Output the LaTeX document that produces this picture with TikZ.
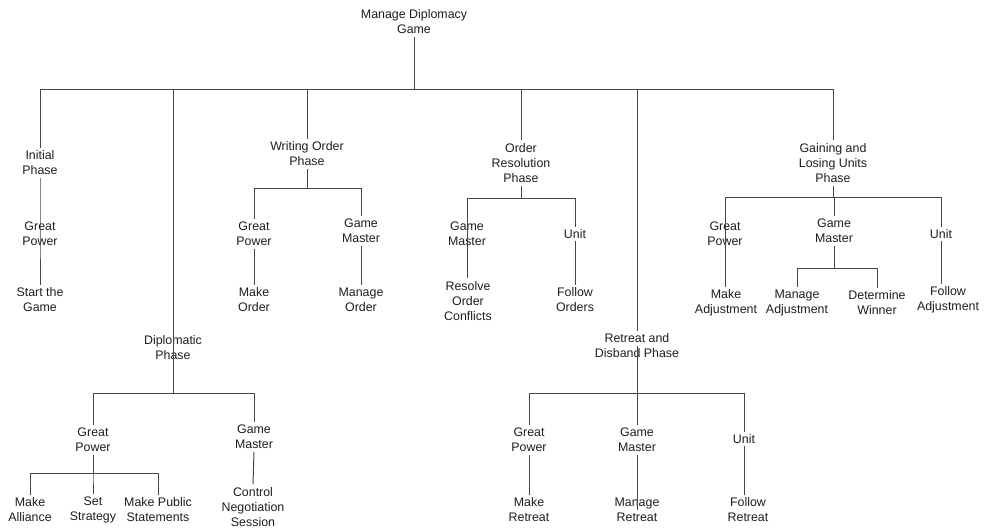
\documentclass[tikz,border=0pt]{standalone}
\usepackage{fontspec}
\setmainfont{Liberation Sans}
\definecolor{wire}{RGB}{70,70,70}
\definecolor{ink}{RGB}{30,30,30}
\tikzset{
  task/.style={align=center, inner sep=2pt, text=ink, font=\fontsize{9.3}{11.3}\selectfont},
  link/.style={draw=wire, line width=0.75pt}
}

\begin{document}
\begin{tikzpicture}[x=0.75pt, y=-0.75pt]
  \useasboundingbox (0,0) rectangle (987,529);
  % Root
  \node[task] (root) at (414, 22) {Manage Diplomacy\\Game};
  % Phases
  \node[task] (init) at ( 40,163) {Initial\\Phase};
  \node[task] (dip)  at (173,348) {Diplomatic\\Phase};
  \node[task] (wo)   at (307,154) {Writing Order\\Phase};
  \node[task] (or)   at (521,163) {Order\\Resolution\\Phase};
  \node[task] (rd)   at (637,346) {Retreat and\\Disband Phase};
  \node[task] (gl)   at (833,163) {Gaining and\\Losing Units\\Phase};
  % Initial Phase
  \node[task] (igp)  at ( 40,234) {Great\\Power};
  \node[task] (sg)   at ( 40,300) {Start the\\Game};
  % Diplomatic Phase
  \node[task] (dgp)  at ( 93,440) {Great\\Power};
  \node[task] (dgm)  at (254,437) {Game\\Master};
  \node[task] (mal)  at ( 30,510) {Make\\Alliance};
  \node[task] (ss)   at ( 93,510) {Set\\Strategy};
  \node[task] (mps)  at (158,510) {Make Public\\Statements};
  \node[task] (cns)  at (253,507) {Control\\Negotiation\\Session};
  % Writing Order Phase
  \node[task] (wgp)  at (254,234) {Great\\Power};
  \node[task] (wgm)  at (361,231) {Game\\Master};
  \node[task] (mo)   at (254,300) {Make\\Order};
  \node[task] (mno)  at (361,300) {Manage\\Order};
  % Order Resolution Phase
  \node[task] (ogm)  at (467,234) {Game\\Master};
  \node[task] (ou)   at (575,234) {Unit};
  \node[task] (roc)  at (468,301) {Resolve\\Order\\Conflicts};
  \node[task] (fo)   at (575,300) {Follow\\Orders};
  % Retreat and Disband Phase
  \node[task] (rgp)  at (529,440) {Great\\Power};
  \node[task] (rgm)  at (637,440) {Game\\Master};
  \node[task] (ru)   at (744,439) {Unit};
  \node[task] (mr)   at (529,510) {Make\\Retreat};
  \node[task] (mgr)  at (637,510) {Manage\\Retreat};
  \node[task] (fr)   at (748,510) {Follow\\Retreat};
  % Gaining and Losing Units Phase
  \node[task] (ggp)  at (725,234) {Great\\Power};
  \node[task] (ggm)  at (834,231) {Game\\Master};
  \node[task] (gu)   at (941,234) {Unit};
  \node[task] (ma)   at (726,303) {Make\\Adjustment};
  \node[task] (mad)  at (797,303) {Manage\\Adjustment};
  \node[task] (dw)   at (877,303) {Determine\\Winner};
  \node[task] (fa)   at (948,300) {Follow\\Adjustment};

  % Buses
  \coordinate (topbus) at (414, 89);
  \coordinate (wobus)  at (307,188);
  \coordinate (orbus)  at (521,198);
  \coordinate (glbus)  at (833,197);
  \coordinate (gmbus)  at (834,268);
  \coordinate (dipbus) at (173,393);
  \coordinate (gpbus)  at ( 93,473);
  \coordinate (rdbus)  at (637,393);

  % Root to phases
  \foreach \c in {init,wo,or,rd,gl}
    \draw[link] (root.south) -- (topbus) -| (\c.north);
  \draw[link] (topbus) -| (dip.center);
  % Initial Phase
  \draw[link] (init.south) -- (igp.center) -- (sg.north);
  % Diplomatic Phase
  \foreach \c in {dgp,dgm}
    \draw[link] (dip.center) -- (dipbus) -| (\c.north);
  \foreach \c in {mal,ss,mps}
    \draw[link] (dgp.south) -- (gpbus) -| (\c.north);
  \draw[link] (dgm.south) -- (cns.north);
  % Writing Order Phase
  \foreach \c in {wgp,wgm}
    \draw[link] (wo.south) -- (wobus) -| (\c.north);
  \draw[link] (wgp.south) -- (mo.north);
  \draw[link] (wgm.south) -- (mno.north);
  % Order Resolution Phase
  \draw[link] (or.south) -- (orbus) -| (ogm.center);
  \draw[link] (orbus) -| (ou.north);
  \draw[link] (ogm.center) -- (ogm.center |- roc.north);
  \draw[link] (ou.south) -- (fo.north);
  % Retreat and Disband Phase
  \foreach \c in {rgp,rgm,ru}
    \draw[link] (rd.center) -- (rdbus) -| (\c.north);
  \draw[link] (rgp.south) -- (mr.north);
  \draw[link] (rgm.south) -- (mgr.center);
  \draw[link] (ru.south) -- (ru.south |- fr.north);
  % Gaining and Losing Units Phase
  \draw[link] (gl.south) -- (glbus) -| (ggp.center);
  \foreach \c in {ggm,gu}
    \draw[link] (glbus) -| (\c.north);
  \draw[link] (ggp.center) -- (ggp.center |- ma.north);
  \foreach \c in {mad,dw}
    \draw[link] (ggm.south) -- (gmbus) -| (\c.north);
  \draw[link] (gu.south) -- (gu.south |- fa.north);
\end{tikzpicture}
\end{document}
